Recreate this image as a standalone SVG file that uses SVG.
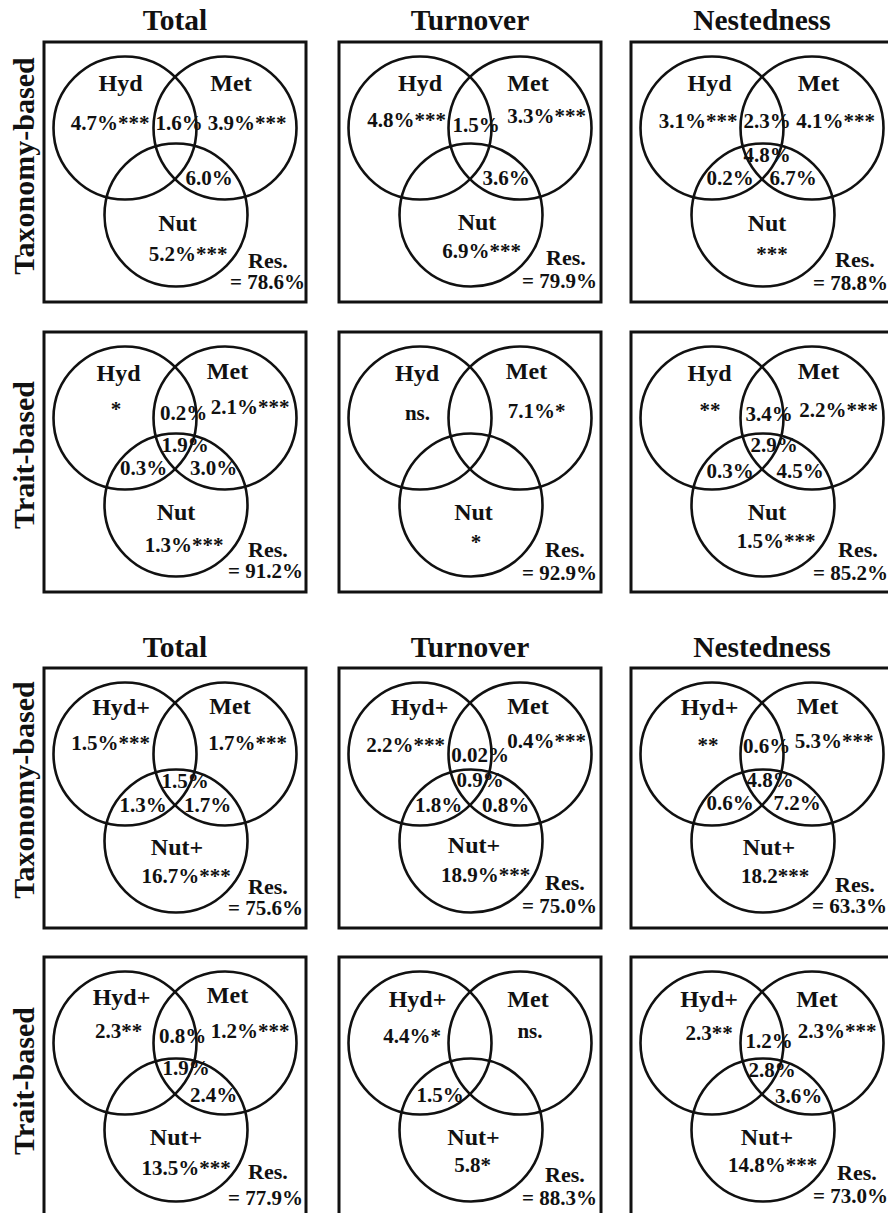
<svg xmlns="http://www.w3.org/2000/svg" width="888" height="1213" viewBox="0 0 888 1213">
  <defs>
    <style>
      text { font-family: "Liberation Serif", "Times New Roman", serif; font-weight: bold; fill: #111; }
      .box { fill: none; stroke: #111; stroke-width: 3; }
      .c { fill: none; stroke: #111; stroke-width: 2.6; }
      .title { font-size: 29.5px; text-anchor: middle; }
      .row { font-size: 30px; text-anchor: middle; }
      .lab { font-size: 24px; text-anchor: middle; }
      .v { font-size: 21px; text-anchor: middle; }
      .res { font-size: 22px; }
      .eq { font-size: 21px; }
    </style>
    <!-- shared frame and three-set Venn outline -->
    <g id="venn">
      <rect class="box" x="0" y="0" width="262" height="260"/>
      <circle class="c" cx="81" cy="86" r="71.5"/>
      <circle class="c" cx="181" cy="86" r="71.5"/>
      <circle class="c" cx="132" cy="173" r="71.5"/>
    </g>
  </defs>
  <rect x="0" y="0" width="888" height="1213" fill="#fff"/>

  <!-- column titles -->
  <g id="titles">
    <text class="title" x="175" y="30">Total</text>
    <text class="title" x="470" y="30">Turnover</text>
    <text class="title" x="762" y="30">Nestedness</text>
    <text class="title" x="175" y="657">Total</text>
    <text class="title" x="470" y="657">Turnover</text>
    <text class="title" x="762" y="657">Nestedness</text>
  </g>

  <!-- row labels -->
  <g id="row-labels">
    <text class="row" transform="translate(34,166) rotate(-90)">Taxonomy-based</text>
    <text class="row" transform="translate(34,455) rotate(-90)">Trait-based</text>
    <text class="row" transform="translate(34,790) rotate(-90)">Taxonomy-based</text>
    <text class="row" transform="translate(34,1081) rotate(-90)">Trait-based</text>
  </g>

  <!-- upper block: Hyd / Met / Nut -->
  <g id="tax-total" transform="translate(44,42)">
    <use href="#venn"/>
    <text class="lab" x="76.5" y="49">Hyd</text>
    <text class="lab" x="187" y="49">Met</text>
    <text class="v" x="66" y="88">4.7%***</text>
    <text class="v" x="135" y="88">1.6%</text>
    <text class="v" x="203" y="88">3.9%***</text>
    <text class="v" x="165" y="143">6.0%</text>
    <text class="lab" x="133.5" y="189">Nut</text>
    <text class="v" x="144" y="219">5.2%***</text>
    <text class="res" x="204" y="226">Res.</text>
    <text class="eq" x="186" y="247">= 78.6%</text>
  </g>

  <g id="tax-turnover" transform="translate(339,42)">
    <use href="#venn"/>
    <text class="lab" x="81" y="49">Hyd</text>
    <text class="lab" x="189" y="49">Met</text>
    <text class="v" x="67.5" y="85">4.8%***</text>
    <text class="v" x="137" y="90">1.5%</text>
    <text class="v" x="207.5" y="81">3.3%***</text>
    <text class="v" x="167" y="143">3.6%</text>
    <text class="lab" x="138" y="188">Nut</text>
    <text class="v" x="142.5" y="216">6.9%***</text>
    <text class="res" x="207" y="223">Res.</text>
    <text class="eq" x="183" y="246">= 79.9%</text>
  </g>

  <g id="tax-nestedness" transform="translate(631,42)">
    <use href="#venn"/>
    <text class="lab" x="78.5" y="49">Hyd</text>
    <text class="lab" x="187.5" y="49">Met</text>
    <text class="v" x="67" y="86">3.1%***</text>
    <text class="v" x="136" y="86">2.3%</text>
    <text class="v" x="204.5" y="86">4.1%***</text>
    <text class="v" x="136" y="120">4.8%</text>
    <text class="v" x="99" y="143">0.2%</text>
    <text class="v" x="162" y="143">6.7%</text>
    <text class="lab" x="136" y="189">Nut</text>
    <text class="v" x="141" y="219">***</text>
    <text class="res" x="204" y="225">Res.</text>
    <text class="eq" x="182" y="248">= 78.8%</text>
  </g>

  <g id="trait-total" transform="translate(44,332)">
    <use href="#venn"/>
    <text class="lab" x="74.5" y="49">Hyd</text>
    <text class="lab" x="183.5" y="47">Met</text>
    <text class="v" x="72" y="84">*</text>
    <text class="v" x="139.5" y="88">0.2%</text>
    <text class="v" x="206" y="82">2.1%***</text>
    <text class="v" x="141" y="120">1.9%</text>
    <text class="v" x="99.5" y="143">0.3%</text>
    <text class="v" x="169.5" y="143">3.0%</text>
    <text class="lab" x="132" y="188">Nut</text>
    <text class="v" x="140" y="220">1.3%***</text>
    <text class="res" x="204" y="225">Res.</text>
    <text class="eq" x="184" y="246">= 91.2%</text>
  </g>

  <g id="trait-turnover" transform="translate(339,332)">
    <use href="#venn"/>
    <text class="lab" x="78" y="49">Hyd</text>
    <text class="lab" x="187.5" y="47">Met</text>
    <text class="v" x="78.5" y="88">ns.</text>
    <text class="v" x="197.5" y="86">7.1%*</text>
    <text class="lab" x="134.5" y="188">Nut</text>
    <text class="v" x="137" y="217">*</text>
    <text class="res" x="206" y="225">Res.</text>
    <text class="eq" x="183" y="248">= 92.9%</text>
  </g>

  <g id="trait-nestedness" transform="translate(631,332)">
    <use href="#venn"/>
    <text class="lab" x="78.5" y="49">Hyd</text>
    <text class="lab" x="187.5" y="47">Met</text>
    <text class="v" x="79" y="85">**</text>
    <text class="v" x="138" y="89">3.4%</text>
    <text class="v" x="207.5" y="85">2.2%***</text>
    <text class="v" x="143" y="120">2.9%</text>
    <text class="v" x="99" y="146">0.3%</text>
    <text class="v" x="169" y="146">4.5%</text>
    <text class="lab" x="136" y="188">Nut</text>
    <text class="v" x="145" y="216">1.5%***</text>
    <text class="res" x="207" y="225">Res.</text>
    <text class="eq" x="182" y="248">= 85.2%</text>
  </g>

  <!-- lower block: Hyd+ / Met / Nut+ -->
  <g id="tax-total-plus" transform="translate(44,668)">
    <use href="#venn"/>
    <text class="lab" x="77" y="47">Hyd+</text>
    <text class="lab" x="186" y="46">Met</text>
    <text class="v" x="66.5" y="82">1.5%***</text>
    <text class="v" x="203.5" y="82">1.7%***</text>
    <text class="v" x="141" y="120">1.5%</text>
    <text class="v" x="99" y="144">1.3%</text>
    <text class="v" x="163.5" y="144">1.7%</text>
    <text class="lab" x="133" y="187">Nut+</text>
    <text class="v" x="142" y="215">16.7%***</text>
    <text class="res" x="204" y="226">Res.</text>
    <text class="eq" x="184" y="247">= 75.6%</text>
  </g>

  <g id="tax-turnover-plus" transform="translate(339,668)">
    <use href="#venn"/>
    <text class="lab" x="80.5" y="47">Hyd+</text>
    <text class="lab" x="189" y="46">Met</text>
    <text class="v" x="66.5" y="84">2.2%***</text>
    <text class="v" x="141" y="94">0.02%</text>
    <text class="v" x="207.5" y="80">0.4%***</text>
    <text class="v" x="141" y="119">0.9%</text>
    <text class="v" x="99.5" y="144">1.8%</text>
    <text class="v" x="166.5" y="144">0.8%</text>
    <text class="lab" x="135" y="185">Nut+</text>
    <text class="v" x="146.5" y="214">18.9%***</text>
    <text class="res" x="206" y="222">Res.</text>
    <text class="eq" x="183" y="245">= 75.0%</text>
  </g>

  <g id="tax-nestedness-plus" transform="translate(631,668)">
    <use href="#venn"/>
    <text class="lab" x="78.5" y="47">Hyd+</text>
    <text class="lab" x="186.5" y="46">Met</text>
    <text class="v" x="77" y="84">**</text>
    <text class="v" x="135.5" y="85">0.6%</text>
    <text class="v" x="203" y="80">5.3%***</text>
    <text class="v" x="139" y="119">4.8%</text>
    <text class="v" x="99" y="142">0.6%</text>
    <text class="v" x="166" y="142">7.2%</text>
    <text class="lab" x="138" y="187">Nut+</text>
    <text class="v" x="144" y="215">18.2***</text>
    <text class="res" x="204" y="224">Res.</text>
    <text class="eq" x="181" y="245">= 63.3%</text>
  </g>

  <g id="trait-total-plus" transform="translate(44,957)">
    <use href="#venn"/>
    <text class="lab" x="77.5" y="48">Hyd+</text>
    <text class="lab" x="183.5" y="46">Met</text>
    <text class="v" x="74.5" y="81">2.3**</text>
    <text class="v" x="138.5" y="86">0.8%</text>
    <text class="v" x="206" y="81">1.2%***</text>
    <text class="v" x="142" y="118">1.9%</text>
    <text class="v" x="169.5" y="145">2.4%</text>
    <text class="lab" x="132" y="188">Nut+</text>
    <text class="v" x="142" y="218">13.5%***</text>
    <text class="res" x="204" y="222">Res.</text>
    <text class="eq" x="184" y="248">= 77.9%</text>
  </g>

  <g id="trait-turnover-plus" transform="translate(339,957)">
    <use href="#venn"/>
    <text class="lab" x="78.5" y="50">Hyd+</text>
    <text class="lab" x="189" y="50">Met</text>
    <text class="v" x="73" y="86">4.4%*</text>
    <text class="v" x="191" y="81">ns.</text>
    <text class="v" x="101" y="145">1.5%</text>
    <text class="lab" x="134.5" y="188">Nut+</text>
    <text class="v" x="133.5" y="215">5.8*</text>
    <text class="res" x="206" y="225">Res.</text>
    <text class="eq" x="183" y="248">= 88.3%</text>
  </g>

  <g id="trait-nestedness-plus" transform="translate(631,957)">
    <use href="#venn"/>
    <text class="lab" x="78" y="50">Hyd+</text>
    <text class="lab" x="186" y="50">Met</text>
    <text class="v" x="78" y="83">2.3**</text>
    <text class="v" x="138" y="91">1.2%</text>
    <text class="v" x="206" y="81">2.3%***</text>
    <text class="v" x="141" y="120">2.8%</text>
    <text class="v" x="167.5" y="146">3.6%</text>
    <text class="lab" x="136" y="188">Nut+</text>
    <text class="v" x="141.5" y="215">14.8%***</text>
    <text class="res" x="206" y="223">Res.</text>
    <text class="eq" x="182" y="246">= 73.0%</text>
  </g>
</svg>
